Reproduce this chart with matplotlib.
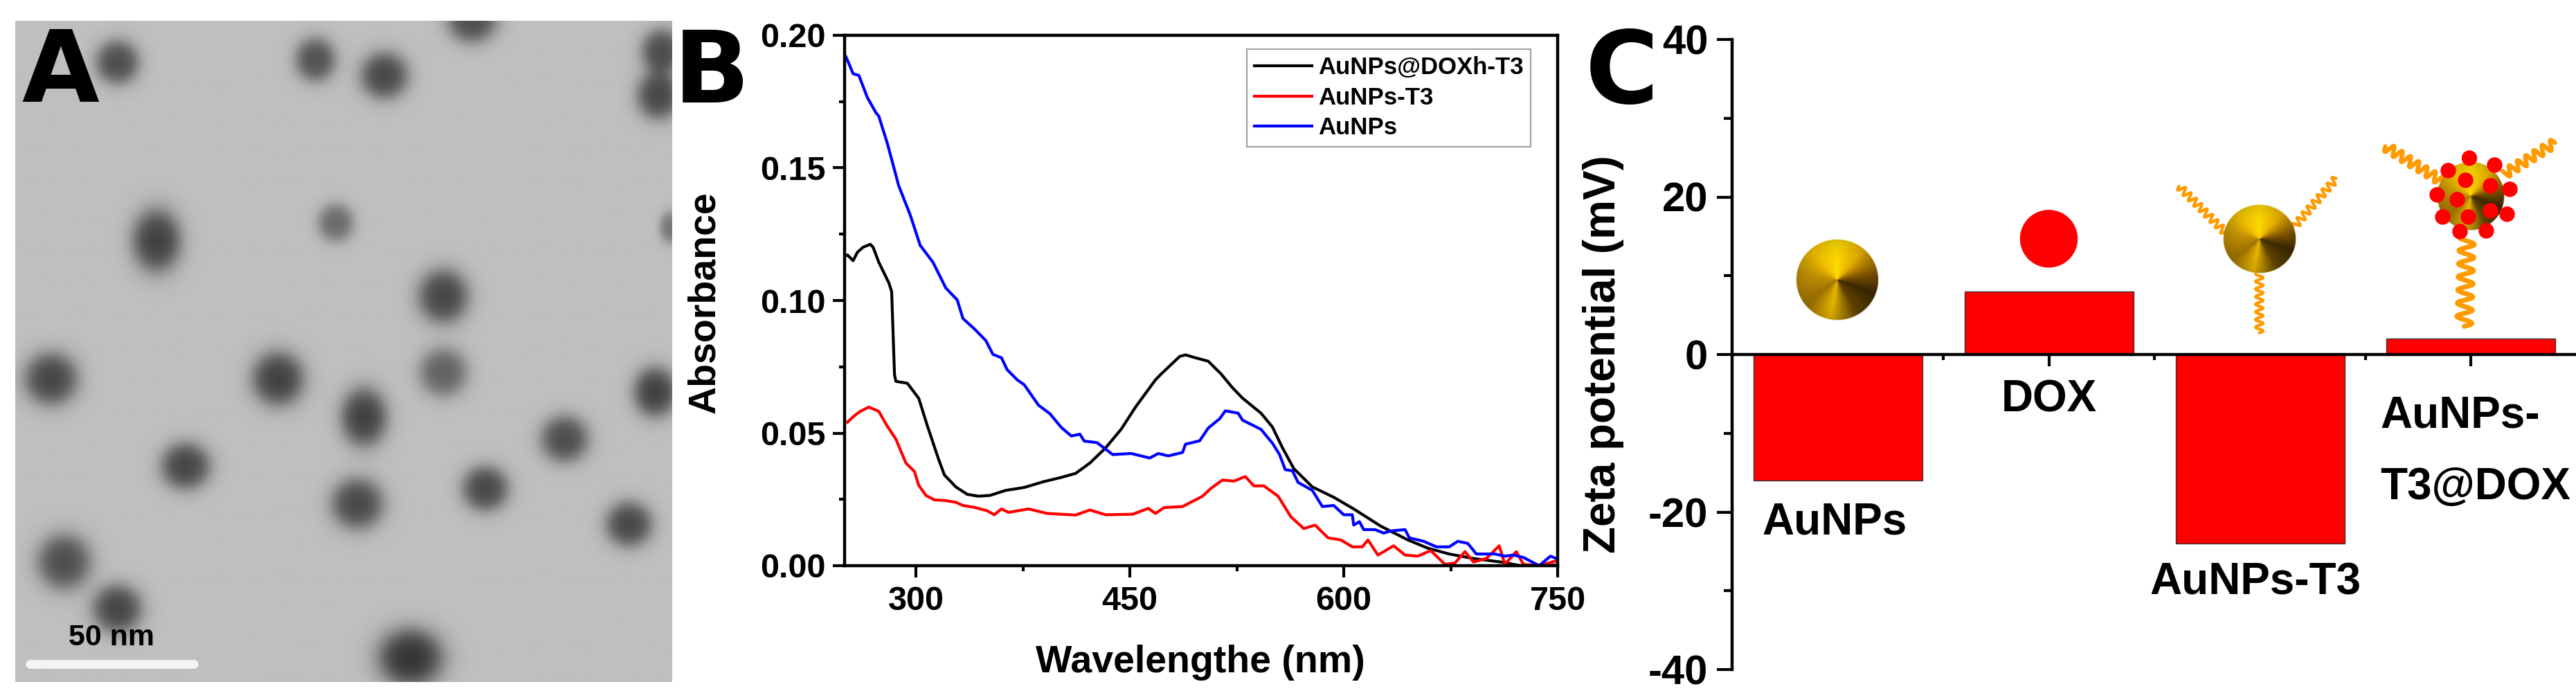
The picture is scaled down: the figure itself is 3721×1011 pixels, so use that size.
import numpy as np
import matplotlib
matplotlib.use("Agg")
import matplotlib.pyplot as plt
from matplotlib.ticker import MultipleLocator
from matplotlib.patches import Circle

W, H = 3721, 1011
plt.rcParams["font.family"] = ["Liberation Sans", "DejaVu Sans"]
plt.rcParams["font.weight"] = "bold"
plt.rcParams["axes.unicode_minus"] = False

# ---- panel A: particles seen in the TEM image (fractions of the image) ----
tem_x = [.155, .457, .562, .696, .985, .980, .215, .488, .652, .998, .054, .400,
         .652, .531, .975, .837, .259, .521, .716, .935, .074, .155, .602]
tem_y = [.063, .059, .083, .000, .046, .113, .333, .306, .417, .313, .542, .542,
         .532, .600, .562, .633, .674, .731, .708, .762, .819, .890, .964]
tem_rx = [.030, .028, .033, .034, .028, .030, .034, .025, .035, .015, .037, .036,
          .033, .032, .030, .033, .034, .036, .032, .032, .037, .034, .045]
tem_ry = [.030, .030, .032, .030, .030, .033, .043, .026, .037, .022, .036, .037,
          .033, .040, .034, .032, .032, .035, .031, .031, .038, .033, .040]
tem_dark = [.45, .43, .47, .45, .45, .47, .50, .33, .48, .28, .48, .50,
            .37, .50, .50, .45, .48, .47, .47, .47, .45, .48, .55]

# ---- panel B: UV-vis spectra ----
wl_blue = [251, 256, 260, 266, 272, 274, 280, 288, 296, 303, 312, 321, 329, 333, 341,
           349, 354, 360, 364, 371, 376, 386, 394, 402, 409, 415, 418, 427, 438, 451,
           464, 470, 477, 487, 489, 499, 505, 513, 517, 526, 529, 542, 550, 555, 559,
           564, 568, 578, 585, 593, 600, 606, 607, 611, 614, 622, 628, 633, 643, 646,
           656, 665, 674, 680, 687, 693, 706, 713, 719, 726, 737, 745, 749]
abs_blue = [0.1919, 0.1855, 0.1849, 0.1765, 0.1708, 0.1695, 0.1592, 0.1432, 0.1323, 0.1208,
            0.1144, 0.1047, 0.1002, 0.0932, 0.0893, 0.0849, 0.0797, 0.0784, 0.0739, 0.0701,
            0.0682, 0.0605, 0.0573, 0.0521, 0.0489, 0.0496, 0.0470, 0.0464, 0.0419, 0.0423,
            0.0406, 0.0423, 0.0414, 0.0427, 0.0458, 0.0471, 0.0519, 0.0554, 0.0584, 0.0575,
            0.0549, 0.0514, 0.0462, 0.0419, 0.0362, 0.0358, 0.0314, 0.0284, 0.0223, 0.0227,
            0.0192, 0.0192, 0.0153, 0.0166, 0.0136, 0.0136, 0.0123, 0.0131, 0.0136, 0.0105,
            0.0092, 0.0071, 0.0071, 0.0092, 0.0084, 0.0044, 0.0044, 0.0036, 0.0040, 0.0031,
            0.0, 0.0036, 0.0027]

wl_black = [251, 252, 256, 259, 263, 268, 270, 274, 281, 283, 285, 286, 294, 302, 308,
            316, 320, 328, 336, 344, 352, 363, 376, 389, 402, 412, 422, 433, 444, 454,
            468, 472, 485, 489, 496, 505, 514, 522, 529, 542, 550, 557, 565, 578, 593,
            607, 626, 645, 659, 674, 691, 710, 723, 737, 749]
abs_black = [0.1169, 0.1172, 0.1150, 0.1182, 0.1201, 0.1212, 0.1201, 0.1144, 0.1067, 0.1034,
             0.0720, 0.0695, 0.0688, 0.0631, 0.0528, 0.0400, 0.0342, 0.0297, 0.0269, 0.0262,
             0.0265, 0.0284, 0.0295, 0.0316, 0.0333, 0.0348, 0.0387, 0.0444, 0.0515, 0.0598,
             0.0701, 0.0723, 0.0789, 0.0795, 0.0784, 0.0771, 0.0723, 0.0671, 0.0632, 0.0575,
             0.0523, 0.0445, 0.0366, 0.0297, 0.0258, 0.0214, 0.0149, 0.0097, 0.0066, 0.0044,
             0.0027, 0.0014, 0.0001, 0.0, 0.0002]

wl_red = [252, 257, 261, 267, 274, 279, 286, 293, 299, 302, 307, 313, 320, 328, 333,
          341, 350, 355, 360, 365, 379, 392, 412, 422, 433, 452, 463, 468, 474, 487,
          501, 507, 515, 523, 531, 537, 544, 554, 563, 572, 580, 589, 598, 606, 613,
          617, 624, 635, 643, 652, 661, 671, 678, 685, 691, 700, 709, 713, 721, 726,
          737, 749]
abs_red = [0.0541, 0.0566, 0.0582, 0.0598, 0.0582, 0.0534, 0.0477, 0.0387, 0.0355, 0.0303,
           0.0265, 0.0248, 0.0246, 0.0239, 0.0227, 0.0220, 0.0207, 0.0192, 0.0214, 0.0201,
           0.0214, 0.0197, 0.0191, 0.0210, 0.0192, 0.0194, 0.0216, 0.0197, 0.0219, 0.0223,
           0.0262, 0.0292, 0.0323, 0.0319, 0.0336, 0.0301, 0.0301, 0.0262, 0.0184, 0.0140,
           0.0153, 0.0105, 0.0097, 0.0071, 0.0071, 0.0097, 0.0040, 0.0075, 0.0040, 0.0036,
           0.0057, 0.0005, 0.0010, 0.0053, 0.0014, 0.0027, 0.0075, 0.0005, 0.0053, 0.0005,
           0.0, 0.0018]

# ---- panel C: zeta potential ----
zeta_names = ["AuNPs", "DOX", "AuNPs-T3", "AuNPs-T3@DOX"]
zeta_mv = [-16, 8, -24, 2]


def px_axes(fig, x0, y0, x1, y1):
    # axes placed by pixel box (y measured from the top)
    return fig.add_axes([x0 / W, 1 - y1 / H, (x1 - x0) / W, (y1 - y0) / H])


def px_text(fig, x, y, s, **kw):
    return fig.text(x / W, 1 - y / H, s, **kw)


def wavy(ax, p0, p1, amp, lam, lw):
    p0, p1 = np.array(p0, float), np.array(p1, float)
    v = p1 - p0
    length = np.hypot(*v)
    u = v / length
    n = np.array([-u[1], u[0]])
    t = np.linspace(0, length, 300)
    off = amp * np.sin(2 * np.pi * t / lam)
    pts = p0 + np.outer(t, u) + np.outer(off, n)
    ax.plot(pts[:, 0], pts[:, 1], color="#ff9a00", lw=lw, solid_capstyle="round", zorder=2)


def gold_sphere(ax, cx, cy, rx, ry):
    n = 240
    yy, xx = np.mgrid[-1:1:n * 1j, -1:1:n * 1j]
    ang = np.degrees(np.arctan2(xx, -yy)) % 360
    stops = [0, 40, 80, 110, 150, 190, 230, 280, 320, 360]
    red = [255, 235, 130, 60, 100, 235, 160, 195, 245, 255]
    grn = [220, 180, 85, 40, 70, 185, 115, 145, 195, 220]
    blu = [0, 0, 0, 0, 0, 0, 0, 5, 0, 0]
    rad = np.hypot(xx, yy)
    shade = 1 - 0.15 * rad ** 3
    rgba = np.zeros((n, n, 4))
    rgba[..., 0] = np.interp(ang, stops, red) / 255 * shade
    rgba[..., 1] = np.interp(ang, stops, grn) / 255 * shade
    rgba[..., 2] = np.interp(ang, stops, blu) / 255
    rgba[..., 3] = np.clip((1 - rad) * n / 5, 0, 1)
    ax.imshow(rgba, extent=(cx - rx, cx + rx, cy + ry, cy - ry), aspect="auto",
              interpolation="bilinear", zorder=3)


fig = plt.figure(figsize=(W / 100, H / 100), dpi=100)
fig.patch.set_facecolor("white")

# ---------------- A ----------------
axA = px_axes(fig, 22, 30, 971, 985)
gx, gy = np.meshgrid(np.linspace(0, 1, 600), np.linspace(0, 1, 600))
img = np.full(gx.shape, 0.75)
for x, y, rx, ry, dk in zip(tem_x, tem_y, tem_rx, tem_ry, tem_dark):
    d = np.hypot((gx - x) / rx, (gy - y) / ry)
    img -= dk / (1 + np.exp((d - 1) / 0.24))
img = np.clip(img, 0, 1)
axA.imshow(img, cmap="gray", vmin=0, vmax=1, extent=(0, 1, 1, 0), aspect="auto",
           interpolation="bilinear")
axA.plot([0.022, 0.272], [0.973, 0.973], color="#f4f4f4", lw=9, solid_capstyle="round")
axA.text(0.146, 0.945, "50 nm", fontsize=31, fontweight="bold", ha="center",
         va="baseline", color="black")
axA.set_xlim(0, 1)
axA.set_ylim(1, 0)
axA.axis("off")

# ---------------- B ----------------
axB = px_axes(fig, 1220, 51, 2250, 817)
axB.plot(wl_black, abs_black, color="black", lw=3, label="AuNPs@DOXh-T3")
axB.plot(wl_red, abs_red, color="#ff0000", lw=3, label="AuNPs-T3")
axB.plot(wl_blue, abs_blue, color="#0000ff", lw=3, label="AuNPs")
axB.set_xlim(250, 750)
axB.set_ylim(0, 0.2)
axB.xaxis.set_major_locator(MultipleLocator(150))
axB.xaxis.set_minor_locator(MultipleLocator(75))
axB.yaxis.set_major_locator(MultipleLocator(0.05))
axB.yaxis.set_minor_locator(MultipleLocator(0.025))
axB.yaxis.set_major_formatter(matplotlib.ticker.FormatStrFormatter("%.2f"))
for sp in axB.spines.values():
    sp.set_linewidth(3.2)
axB.tick_params(which="major", direction="out", length=12, width=3, labelsize=35, top=False,
                right=False)
axB.tick_params(which="minor", direction="out", length=6, width=3, top=False, right=False)
axB.tick_params(axis="x", which="major", pad=9)
axB.tick_params(axis="y", which="major", pad=8)
for lab in axB.get_xticklabels() + axB.get_yticklabels():
    lab.set_fontweight("bold")
leg = axB.legend(loc="upper right", bbox_to_anchor=(0.962, 0.974), borderaxespad=0,
                 prop={"size": 25, "weight": "bold"}, fancybox=False, framealpha=1,
                 edgecolor="#a0a0a0", handlelength=2.4, handletextpad=0.25,
                 borderpad=0.3, labelspacing=0.3)
leg.get_frame().set_linewidth(1.5)
px_text(fig, 1018, 437, "Absorbance", fontsize=40, fontweight="bold", rotation=90,
        ha="center", va="center")
px_text(fig, 1734, 957, "Wavelengthe (nm)", fontsize=40, fontweight="bold",
        ha="center", va="center")

# ---------------- C ----------------
axC = px_axes(fig, 2502, 57, 3722, 967)
pos = np.arange(1, len(zeta_mv) + 1)
axC.bar(pos, zeta_mv, width=0.8, color="#ff0000", edgecolor="#333333", linewidth=1, zorder=2)
axC.set_xlim(0.5, 4.5)
axC.set_ylim(-40, 40)
axC.spines["top"].set_visible(False)
axC.spines["right"].set_visible(False)
axC.spines["bottom"].set_position(("data", 0))
axC.spines["bottom"].set_zorder(3)
for sp in ("left", "bottom"):
    axC.spines[sp].set_linewidth(3.2)
axC.set_xticks(pos)
axC.set_xticks([1.5, 2.5, 3.5], minor=True)
axC.yaxis.set_major_locator(MultipleLocator(20))
axC.yaxis.set_minor_locator(MultipleLocator(10))
axC.tick_params(axis="x", which="major", direction="out", length=12, width=3, labelbottom=False)
axC.tick_params(axis="x", which="minor", direction="out", length=6, width=3)
axC.tick_params(axis="y", which="major", direction="out", length=16, width=3, labelsize=43, pad=9)
axC.tick_params(axis="y", which="minor", direction="out", length=9, width=3)
for lab in axC.get_yticklabels():
    lab.set_fontweight("bold")

lab_kw = dict(fontsize=46, fontweight="bold", va="center")
axC.text(0.985, -21.3, zeta_names[0], ha="center", **lab_kw)
axC.text(2.0, -5.8, zeta_names[1], ha="center", **lab_kw)
axC.text(2.98, -29.0, zeta_names[2], ha="center", **lab_kw)
axC.text(3.57, -7.8, "AuNPs-", ha="left", **lab_kw)
axC.text(3.57, -16.9, "T3@DOX", ha="left", **lab_kw)
px_text(fig, 2316, 512, "Zeta potential (mV)", fontsize=46, fontweight="bold", rotation=90,
        ha="center", va="center")

# panel letters
for x, y, s in [(31, 147, "A"), (973, 148, "B"), (2290, 149, "C")]:
    px_text(fig, x, y, s, fontsize=104, fontweight="bold", family="DejaVu Sans",
            ha="left", va="baseline", zorder=5)

# ---------------- cartoons above the bars (drawn in pixel space) ----------------
deco = fig.add_axes([0, 0, 1, 1], zorder=10)
deco.patch.set_alpha(0)


def c_px(x, y):
    dx, dy = axC.transData.transform((x, y))
    return dx, H - dy


# bare gold nanoparticle over AuNPs
cx, cy = c_px(1.0, 9.5)
gold_sphere(deco, cx, cy, 60, 59)

# DOX molecule
cx, cy = c_px(2.0, 14.7)
deco.add_patch(Circle((cx, cy), 41, color="#ff0000", zorder=3))

# AuNPs-T3: sphere with three strands
cx, cy = c_px(3.0, 14.7)
for p0, p1 in [((-117, -76), (-50, -9)), ((110, -87), (49, -17)), ((-1, 136), (-1, 51))]:
    wavy(deco, (cx + p0[0], cy + p0[1]), (cx + p1[0], cy + p1[1]), 5.5, 11, 3)
gold_sphere(deco, cx, cy, 53, 50)

# AuNPs-T3@DOX: strands, sphere and DOX dots
cx, cy = c_px(4.0, 20.1)
wavy(deco, (cx - 124, cy - 72), (cx - 43, cy - 22), 7, 14, 4.5)
wavy(deco, (cx + 121, cy - 77), (cx + 48, cy - 32), 7, 14, 4.5)
wavy(deco, (cx - 10, cy + 188), (cx - 6, cy + 58), 11, 19, 5)
gold_sphere(deco, cx, cy, 49, 50)
dots = [(-2.5, -55), (-33, -37), (34, -45), (-8, -23), (28, -15), (56, -10), (-49, -2),
        (-20, 5), (-41, 30), (-4, 30), (28, 21), (52, 26), (-16, 51), (22, 50)]
for dx, dy in dots:
    deco.add_patch(Circle((cx + dx, cy + dy), 10.5, color="#ff0000", zorder=4))

deco.set_xlim(0, W)
deco.set_ylim(H, 0)
deco.axis("off")

fig.savefig("out.png", dpi=100, facecolor="white")
